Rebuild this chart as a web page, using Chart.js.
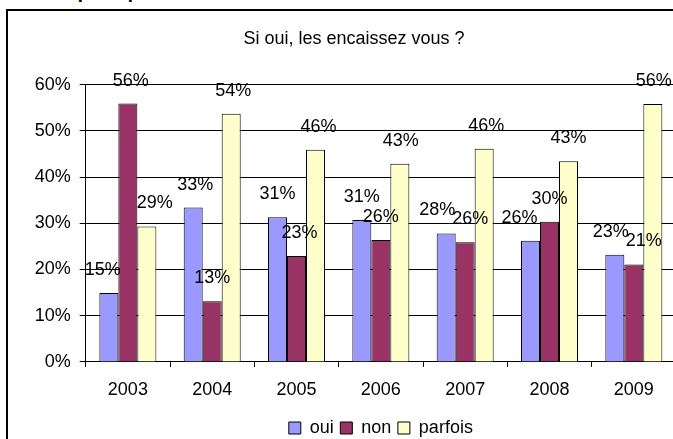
<!DOCTYPE html>
<html>
<head>
<meta charset="utf-8">
<script src="https://cdn.jsdelivr.net/npm/chart.js@4"></script>
<style>
  body { margin: 0; overflow: hidden; background: #fff; }
  #cadre { position: absolute; left: 6px; top: 9px; width: 720px; height: 460px; border: 2px solid #000; box-sizing: border-box; }
  #titre { position: absolute; left: 27px; top: -29px; font: 30px "Liberation Sans", Arial, sans-serif; line-height: 30px; color: #000; white-space: nowrap; }
  #zone { position: absolute; left: 0; top: 0; width: 690px; height: 447px; }
</style>
</head>
<body>
<div id="titre">Graphique 26</div>
<div id="cadre"></div>
<div id="zone"><canvas id="graphe"></canvas></div>
<script>
// donnees (en %)
var annees = ["2003", "2004", "2005", "2006", "2007", "2008", "2009"];
var oui = [14.9, 33.4, 31.3, 30.7, 27.8, 26.2, 23.2];
var non = [55.9, 13.1, 22.9, 26.4, 25.9, 30.3, 21.1];
var parfois = [29.3, 53.7, 45.9, 42.9, 46.1, 43.4, 55.8];
var graduations = [0, 10, 20, 30, 40, 50, 60];

// petits decalages horizontaux des etiquettes (comme Excel)
var decalage = [
    [-6, 2, 0, 0, -9, -11, -4],
    [3, 0, 3, 0, 5, 0, 10],
    [8, 2, 3, 1, 2, 0, 1]
];

Chart.defaults.font.family = '"Liberation Sans", Arial, sans-serif';
Chart.defaults.color = '#000';

// etiquettes de valeur au-dessus des barres
var etiquettes = {
    id: 'etiquettes',
    afterDatasetsDraw: function (chart) {
        var ctx = chart.ctx;
        ctx.save();
        ctx.font = '18px "Liberation Sans", Arial, sans-serif';
        ctx.fillStyle = '#000';
        ctx.textAlign = 'center';
        ctx.textBaseline = 'middle';
        chart.data.datasets.forEach(function (ds, i) {
            chart.getDatasetMeta(i).data.forEach(function (bar, j) {
                ctx.fillText(Math.round(ds.data[j]) + '%', bar.x + decalage[i][j], bar.y - 23);
            });
        });
        ctx.restore();
    }
};

var ctx = document.getElementById("graphe");
var graphe = new Chart(ctx, {
    type: 'bar',
    data: {
        labels: annees,
        datasets: [{
            label: 'oui',
            data: oui,
            backgroundColor: '#9999FF',
            borderColor: '#000',
            borderWidth: 1
        }, {
            label: 'non',
            data: non,
            backgroundColor: '#993366',
            borderColor: '#000',
            borderWidth: 1
        }, {
            label: 'parfois',
            data: parfois,
            backgroundColor: '#FFFFCC',
            borderColor: '#000',
            borderWidth: 1
        }]
    },
    options: {
        responsive: true,
        maintainAspectRatio: false,
        animation: false,
        devicePixelRatio: 1,
        categoryPercentage: 0.676,
        barPercentage: 1,
        layout: { padding: { left: 32, right: 14, top: 0, bottom: 0 } },
        plugins: {
            title: {
                display: true,
                text: 'Si oui, les encaissez vous ?',
                font: { size: 18, weight: 'normal' },
                color: '#000',
                padding: { top: 28, bottom: 35 }
            },
            legend: {
                position: 'bottom',
                fullSize: false,
                labels: { boxWidth: 12, boxHeight: 12, padding: 6.5, font: { size: 18 }, color: '#000' }
            },
            tooltip: { enabled: false }
        },
        scales: {
            x: {
                grid: { drawOnChartArea: false, tickLength: 5, color: '#000' },
                border: { color: '#000' },
                ticks: { font: { size: 18 }, color: '#000', padding: 12 }
            },
            y: {
                min: graduations[0],
                max: graduations[graduations.length - 1],
                afterBuildTicks: function (scale) {
                    scale.ticks = graduations.map(function (v) { return { value: v }; });
                },
                afterFit: function (scale) { scale.width = 53.7; },
                grid: { color: '#000', tickLength: 6 },
                border: { color: '#000' },
                ticks: {
                    font: { size: 18 },
                    color: '#000',
                    padding: 9,
                    callback: function (value) { return value + '%'; }
                }
            }
        }
    },
    plugins: [etiquettes]
});
</script>
</body>
</html>
